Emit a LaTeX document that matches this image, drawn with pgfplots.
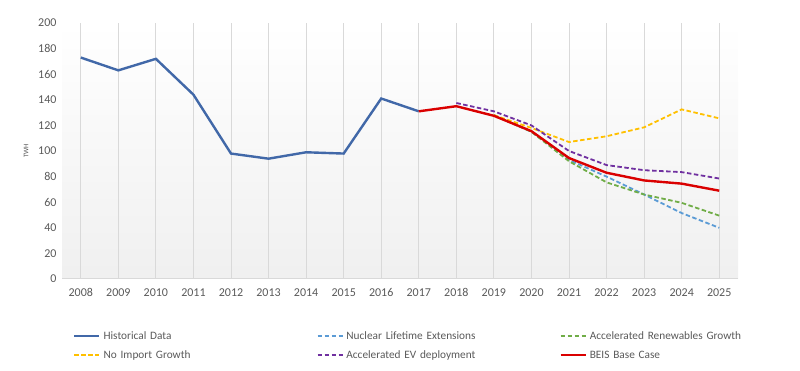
\documentclass[border=0pt]{standalone}
\usepackage{pgfplots}
\pgfplotsset{compat=1.18}
\usepackage{fontspec}
\setmainfont{Carlito}
\definecolor{histblue}{HTML}{4168A8}
\definecolor{nucblue}{HTML}{5B9BD5}
\definecolor{rengreen}{HTML}{70AD47}
\definecolor{impyellow}{HTML}{FFC000}
\definecolor{evpurple}{HTML}{7030A0}
\definecolor{beisred}{HTML}{DA0000}
\definecolor{tickgrey}{HTML}{595959}
\definecolor{gridgrey}{HTML}{D9D9D9}
\begin{document}
\begin{tikzpicture}[x=1pt,y=1pt]
\useasboundingbox (0,0) rectangle (800,371);
\begin{axis}[
  scale only axis,
  width=676pt, height=256pt,
  at={(62pt,92pt)}, anchor=south west,
  xmin=-0.5, xmax=17.5, ymin=0, ymax=200,
  xtick={0,...,17},
  xticklabels={2008,2009,2010,2011,2012,2013,2014,2015,2016,2017,2018,2019,2020,2021,2022,2023,2024,2025},
  ytick={0,20,...,200},
  /pgf/number format/assume math mode=true,
  tick label style={font=\fontsize{12}{14}\selectfont, text=tickgrey},
  xticklabel style={yshift=-6pt},
  yticklabel style={xshift=-2pt},
  major tick length=0pt,
  axis line style={draw=none},
  axis x line*=bottom,
  x axis line style={draw=gridgrey, line width=1pt},
  xmajorgrids, grid style={draw=gridgrey, line width=0.8pt},
  axis background/.style={top color=white, bottom color=black!6},
  ylabel={TWH},
  ylabel style={font=\fontsize{7}{8}\selectfont, text=tickgrey, at={(axis description cs:-0.053,0.5)}, anchor=center},
  legend columns=3,
  legend cell align=left,
  legend image code/.code={\draw[#1] (0pt,0pt) -- (25pt,0pt);},
  legend style={draw=none, fill=none, inner sep=0pt,
    at={(axis description cs:0.0163,-0.1914)}, anchor=north west,
    font=\fontsize{11.3}{13}\selectfont, text=tickgrey,
    nodes={text width=209pt, align=left, inner sep=2pt, text height=9pt, text depth=3pt},
    /tikz/every odd column/.append style={column sep=1pt},
    /tikz/every even column/.append style={column sep=2pt},
    row sep=3pt},
]
\addplot[histblue, line width=2.4pt] coordinates {
(0,173) (1,163) (2,172) (3,144) (4,98) (5,94) (6,99) (7,98) (8,141) (9,131)};
\addlegendentry{Historical Data}
\addplot[nucblue, line width=1.8pt, dash pattern=on 4.5pt off 2.5pt] coordinates {
(11,128) (12,115) (13,93) (14,80) (15,66) (16,51.5) (17,40)};
\addlegendentry{Nuclear Lifetime Extensions}
\addplot[rengreen, line width=1.8pt, dash pattern=on 4.5pt off 2.5pt] coordinates {
(11,128) (12,115) (13,92) (14,75.5) (15,66) (16,59.5) (17,49.5)};
\addlegendentry{Accelerated Renewables Growth}
\addplot[impyellow, line width=1.8pt, dash pattern=on 4.5pt off 2.5pt] coordinates {
(11,128) (12,118) (13,107) (14,111.5) (15,118.5) (16,132.5) (17,125.5)};
\addlegendentry{No Import Growth}
\addplot[evpurple, line width=1.8pt, dash pattern=on 4.5pt off 2.5pt] coordinates {
(10,137.5) (11,131) (12,120) (13,100) (14,89) (15,85) (16,83.5) (17,78.5)};
\addlegendentry{Accelerated EV deployment}
\addplot[beisred, line width=2.4pt] coordinates {
(9,131) (10,135) (11,127.5) (12,115.5) (13,94.5) (14,83) (15,77) (16,74.5) (17,69)};
\addlegendentry{BEIS Base Case}
\end{axis}
\end{tikzpicture}
\end{document}
